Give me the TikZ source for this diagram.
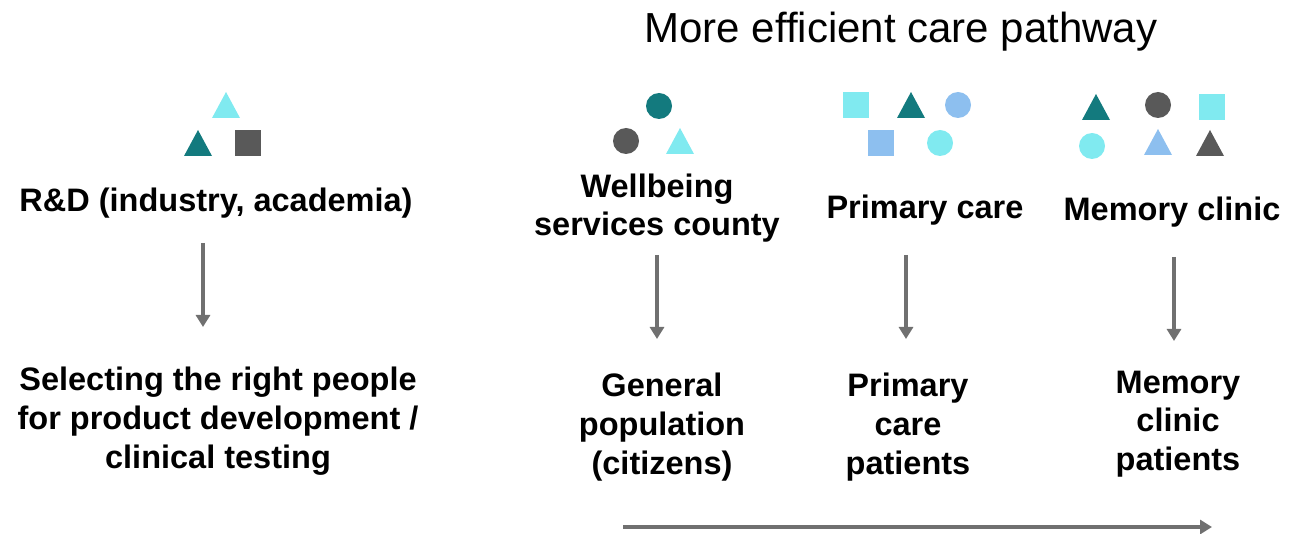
\documentclass[tikz,border=0pt]{standalone}
\usepackage{fontspec}
\setmainfont{Liberation Sans}
\usetikzlibrary{arrows.meta}
\definecolor{teal}{RGB}{19,122,126}
\definecolor{cyanc}{RGB}{128,234,240}
\definecolor{grayc}{RGB}{89,89,89}
\definecolor{bluec}{RGB}{141,191,239}
\definecolor{arrowc}{RGB}{112,112,112}
\newcommand{\mytri}[3]{\fill[#3] (#1-14,#2+13) -- (#1+14,#2+13) -- (#1,#2-13) -- cycle;}
\newcommand{\mysq}[3]{\fill[#3] (#1-13,#2-13) rectangle (#1+13,#2+13);}
\newcommand{\mycirc}[3]{\fill[#3] (#1,#2) circle (13);}
\tikzset{
  lbl/.style={font=\fontsize{32.5}{38.8}\selectfont\bfseries, align=center, inner sep=0pt},
  flow/.style={draw=arrowc, line width=4pt, -{Triangle[width=14pt,length=12pt]}},
}
\begin{document}
\begin{tikzpicture}[x=1pt,y=-1pt]
\useasboundingbox (0,0) rectangle (1303,534);
% shapes
\mytri{226}{105}{cyanc}
\mytri{198}{143}{teal}
\mysq{248}{143}{grayc}
\mycirc{659}{106}{teal}
\mycirc{626}{141}{grayc}
\mytri{680}{141}{cyanc}
\mysq{856}{105}{cyanc}
\mytri{911}{105}{teal}
\mycirc{958}{105}{bluec}
\mysq{881}{143}{bluec}
\mycirc{940}{143}{cyanc}
\mytri{1096}{107}{teal}
\mycirc{1158}{105}{grayc}
\mysq{1212}{107}{cyanc}
\mycirc{1092}{146}{cyanc}
\mytri{1158}{142}{bluec}
\mytri{1210}{143}{grayc}
% title
\node[font=\fontsize{42}{48}\selectfont, inner sep=0pt] (title) at (901,32) {More efficient care pathway};
% labels
\node[lbl] (rd) at (216,203) {R\&D (industry, academia)};
\node[lbl] (wb) at (657,208) {Wellbeing\\services county};
\node[lbl] (pc) at (925,210) {Primary care};
\node[lbl] (mc) at (1172,212) {Memory clinic};
\node[lbl] (sel) at (218,421) {Selecting the right people\\for product development /\\clinical testing};
\node[lbl] (gp) at (662,427) {General\\population\\(citizens)};
\node[lbl] (pcp) at (908,427) {Primary\\care\\patients};
\node[lbl] (mcp) at (1178,424) {Memory\\clinic\\patients};
% arrow endpoints
\coordinate (a1s) at (203,243); \coordinate (a1e) at (203,327);
\coordinate (a2s) at (657,255); \coordinate (a2e) at (657,339);
\coordinate (a3s) at (906,255); \coordinate (a3e) at (906,339);
\coordinate (a4s) at (1174,257); \coordinate (a4e) at (1174,341);
\coordinate (hs) at (623,527); \coordinate (he) at (1212,527);
\draw[flow] (a1s) -- (a1e);
\draw[flow] (a2s) -- (a2e);
\draw[flow] (a3s) -- (a3e);
\draw[flow] (a4s) -- (a4e);
\draw[flow] (hs) -- (he);
\end{tikzpicture}
\end{document}
